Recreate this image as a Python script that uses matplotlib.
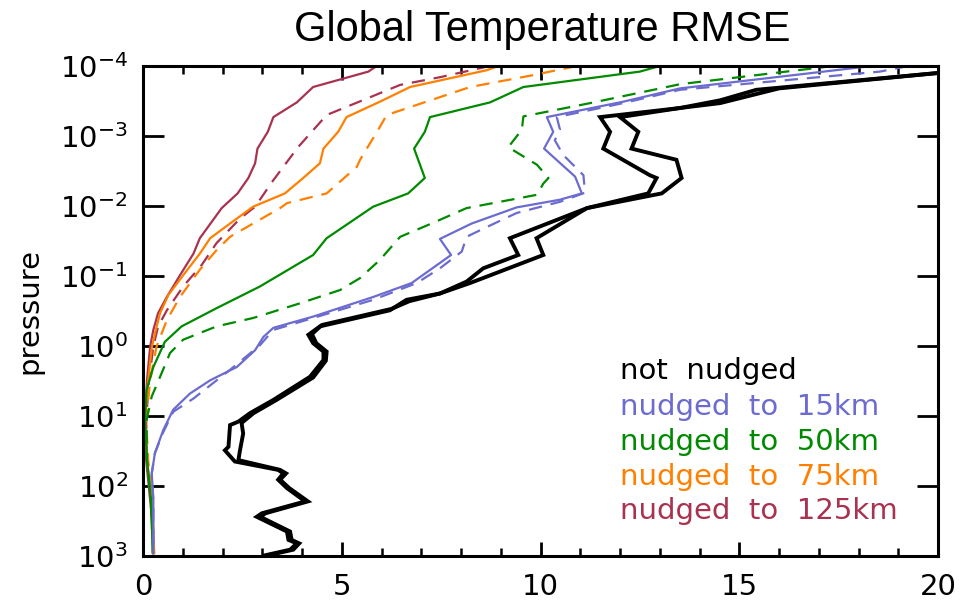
import numpy as np
import matplotlib
matplotlib.use("Agg")
import matplotlib.pyplot as plt

# ---- data: RMSE (x) vs log10(pressure) ----
black_a_x = [20.0, 16.0, 14.52, 13.51, 11.50, 11.75, 11.58, 12.75, 12.92, 12.71, 11.17,
             9.23, 9.44, 8.56, 8.14, 7.47, 6.63, 6.21, 4.45, 4.16, 4.28, 4.54, 4.54, 4.20,
             3.28, 2.69, 2.40, 2.19, 2.15, 2.06, 2.31, 3.40, 3.53, 3.40, 3.62, 4.08,
             2.99, 2.86, 3.62, 3.66, 3.87, 3.70, 3.07]
black_a_lp = [-3.90, -3.68, -3.47, -3.40, -3.27, -3.06, -2.82, -2.44, -2.40, -2.18, -1.97,
              -1.54, -1.30, -1.11, -0.92, -0.75, -0.66, -0.51, -0.28, -0.16, -0.04, 0.08, 0.20, 0.44,
              0.77, 0.96, 1.08, 1.13, 1.44, 1.49, 1.65, 1.77, 1.82, 1.91, 2.03, 2.22,
              2.39, 2.44, 2.65, 2.77, 2.82, 2.91, 2.99]

black_b_x = [20.0, 16.0, 15.43, 14.52, 13.51, 12.00, 12.46, 12.29, 13.42, 13.55, 13.05, 11.17,
             9.90, 10.07, 8.23, 7.47, 6.70, 6.25, 4.50, 4.25, 4.36, 4.62, 4.60, 4.28,
             3.36, 2.78, 2.48, 2.52, 2.44, 2.40, 3.45, 3.60, 3.45, 3.68, 4.15,
             3.08, 2.95, 3.70, 3.74, 3.93, 3.78, 3.15]
black_b_lp = [-3.90, -3.69, -3.66, -3.51, -3.40, -3.27, -3.06, -2.82, -2.66, -2.40, -2.18, -1.97,
              -1.54, -1.30, -0.90, -0.75, -0.64, -0.53, -0.30, -0.17, -0.04, 0.08, 0.21, 0.45,
              0.77, 0.96, 1.10, 1.25, 1.49, 1.63, 1.77, 1.82, 1.91, 2.03, 2.22,
              2.39, 2.44, 2.65, 2.77, 2.82, 2.91, 2.99]

blue_x = [18.33, 13.51, 12.08, 10.16, 10.32, 10.09, 10.87, 11.04, 10.49, 9.40, 8.27, 7.47,
          7.75, 6.76, 5.79, 4.28, 3.28, 3.03, 2.82, 2.36, 1.69, 1.18, 0.76, 0.51, 0.30,
          0.22, 0.26, 0.26]
blue_lp = [-4.00, -3.68, -3.49, -3.27, -3.06, -2.82, -2.42, -2.18, -2.09, -1.98, -1.75, -1.53,
           -1.30, -0.90, -0.70, -0.42, -0.26, -0.13, 0.06, 0.30, 0.49, 0.68, 0.91, 1.20, 1.53,
           1.82, 2.20, 2.96]

blue_d_x = [19.25, 18.54, 13.51, 12.08, 10.41, 10.49, 10.36, 10.57, 11.08, 11.12, 10.49, 9.40,
            8.65, 8.14, 8.02, 7.47, 6.89, 5.79, 4.28, 3.28, 2.94, 2.19, 1.27, 0.76, 0.51,
            0.30, 0.22, 0.26, 0.26]
blue_d_lp = [-4.00, -3.92, -3.66, -3.47, -3.27, -3.09, -2.94, -2.73, -2.44, -2.19, -2.06, -1.90,
             -1.70, -1.56, -1.35, -1.11, -0.90, -0.66, -0.40, -0.23, -0.01, 0.34, 0.75, 0.94, 1.23,
             1.53, 1.82, 2.20, 2.96]

green_x = [13.0, 12.5, 9.57, 8.73, 7.22, 7.09, 6.82, 7.09, 6.67, 5.79, 4.62, 4.28, 2.94,
           1.85, 0.97, 0.55, 0.26, 0.09, 0.05, 0.10, 0.20, 0.25]
green_lp = [-4.00, -3.92, -3.70, -3.48, -3.27, -3.06, -2.82, -2.40, -2.18, -1.99, -1.54, -1.30,
            -0.85, -0.54, -0.28, -0.06, 0.30, 0.63, 1.06, 1.63, 2.20, 2.96]

green_d_x = [17.37, 13.51, 11.25, 9.57, 9.53, 9.19, 9.91, 10.20, 10.07, 9.91, 8.14, 7.30,
             6.47, 5.96, 5.46, 4.96, 3.95, 2.77, 1.85, 1.01, 0.68, 0.43, 0.22, 0.09,
             0.10, 0.20, 0.25]
green_d_lp = [-4.00, -3.74, -3.47, -3.28, -3.09, -2.84, -2.59, -2.40, -2.32, -2.16, -1.97, -1.76,
              -1.56, -1.23, -0.97, -0.80, -0.61, -0.40, -0.28, -0.09, 0.10, 0.44, 0.72, 1.06,
              1.63, 2.20, 2.96]

orange_x = [8.94, 8.65, 6.72, 5.96, 5.12, 4.91, 4.54, 4.45, 4.03, 3.57, 2.77, 2.19, 1.69,
            1.43, 1.01, 0.64, 0.43, 0.30, 0.22, 0.13, 0.05, 0.10, 0.23, 0.28]
orange_lp = [-4.00, -3.94, -3.70, -3.49, -3.27, -3.06, -2.82, -2.61, -2.40, -2.18, -1.99, -1.75,
             -1.54, -1.32, -1.01, -0.73, -0.47, -0.18, 0.03, 0.49, 1.06, 1.63, 2.20, 2.96]

orange_d_x = [10.91, 9.82, 8.23, 6.13, 5.96, 5.46, 5.38, 4.62, 3.62, 3.45, 2.77, 2.19, 1.85,
              1.43, 0.93, 0.60, 0.34, 0.18, 0.08, 0.13, 0.23, 0.28]
orange_d_lp = [-4.00, -3.87, -3.70, -3.30, -3.13, -2.66, -2.56, -2.18, -2.04, -1.97, -1.75, -1.56,
               -1.37, -1.09, -0.70, -0.37, 0.01, 0.49, 1.06, 1.63, 2.20, 2.96]

maroon_x = [5.88, 5.67, 4.28, 3.87, 3.28, 3.14, 2.88, 2.82, 2.65, 2.38, 1.98, 1.43, 1.27,
            0.93, 0.60, 0.38, 0.26, 0.18, 0.10, 0.05, 0.08, 0.18, 0.25, 0.25]
maroon_lp = [-4.00, -3.92, -3.70, -3.48, -3.27, -3.06, -2.82, -2.61, -2.40, -2.18, -1.97, -1.54,
             -1.32, -1.01, -0.70, -0.47, -0.23, 0.01, 0.49, 1.06, 1.63, 2.20, 2.63, 2.96]

maroon_d_x = [8.73, 7.47, 6.47, 4.62, 3.90, 3.28, 2.82, 2.44, 1.85, 1.48, 1.01, 0.60, 0.38,
              0.26, 0.15, 0.08, 0.10, 0.20, 0.25]
maroon_d_lp = [-4.00, -3.84, -3.73, -3.30, -2.84, -2.37, -1.99, -1.82, -1.47, -1.16, -0.85, -0.51,
               -0.28, 0.01, 0.49, 1.06, 1.63, 2.20, 2.96]

legend_labels = ["not  nudged", "nudged  to  15km", "nudged  to  50km",
                 "nudged  to  75km", "nudged  to  125km"]

C_BLACK = "black"
C_BLUE = "#6b6bd0"
C_GREEN = "#008a00"
C_ORANGE = "#ff8000"
C_MAROON = "#a8324f"
legend_colors = [C_BLACK, C_BLUE, C_GREEN, C_ORANGE, C_MAROON]
legend_rows_px = [371, 407, 442, 477, 511]

# ---- figure ----
fig = plt.figure(figsize=(9.62, 6.10), dpi=100)
ax = fig.add_axes([143/962, 1-556/610, (938-143)/962, (556-66)/610])

def P(lp):
    return 10.0 ** np.asarray(lp)

dash = (0, (6, 4))
lw = 1.6
ax.plot(maroon_x, P(maroon_lp), color=C_MAROON, lw=lw)
ax.plot(maroon_d_x, P(maroon_d_lp), color=C_MAROON, lw=lw, linestyle=dash)
ax.plot(orange_x, P(orange_lp), color=C_ORANGE, lw=lw)
ax.plot(orange_d_x, P(orange_d_lp), color=C_ORANGE, lw=lw, linestyle=dash)
ax.plot(green_x, P(green_lp), color=C_GREEN, lw=lw)
ax.plot(green_d_x, P(green_d_lp), color=C_GREEN, lw=lw, linestyle=dash)
ax.plot(blue_x, P(blue_lp), color=C_BLUE, lw=lw)
ax.plot(blue_d_x, P(blue_d_lp), color=C_BLUE, lw=lw, linestyle=dash)
ax.plot(black_a_x, P(black_a_lp), color=C_BLACK, lw=2.8, solid_joinstyle="miter")
ax.plot(black_b_x, P(black_b_lp), color=C_BLACK, lw=2.8, solid_joinstyle="miter")

ax.set_yscale("log")
ax.set_xlim(0, 20)
ax.set_ylim(1e3, 1e-4)
ax.set_yticks([1e-4, 1e-3, 1e-2, 1e-1, 1e0, 1e1, 1e2, 1e3])
ax.yaxis.set_minor_locator(matplotlib.ticker.NullLocator())
ax.set_xticks([0, 5, 10, 15, 20])
ax.set_xticks(np.arange(0, 21, 1), minor=True)

for s in ax.spines.values():
    s.set_linewidth(2.2)
ax.tick_params(axis="both", which="major", direction="in", top=True, right=True,
               width=2.0, labelsize=21)
ax.tick_params(axis="x", which="major", length=10, pad=12)
ax.tick_params(axis="y", which="major", length=15, pad=11)
ax.tick_params(axis="x", which="minor", direction="in", top=True, length=6, width=1.8)

ax.set_ylabel("pressure", fontsize=21, labelpad=12)
fig.text(542/962, 1-30/610, "Global Temperature RMSE", ha="center", va="center",
         fontsize=30, family="Liberation Sans")

for lab, col, yy in zip(legend_labels, legend_colors, legend_rows_px):
    fig.text(620/962, 1-yy/610, lab, color=col, fontsize=21, ha="left", va="center")

fig.savefig("out.png", dpi=100)
